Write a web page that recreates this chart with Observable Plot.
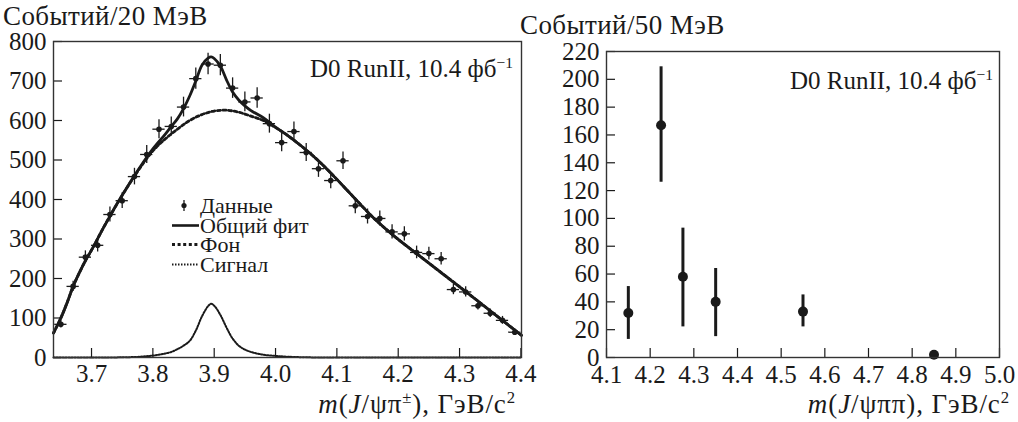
<!DOCTYPE html>
<html><head><meta charset="utf-8">
<script src="https://cdn.jsdelivr.net/npm/d3@7"></script>
<script src="https://cdn.jsdelivr.net/npm/@observablehq/plot@0.6"></script>
<style>
body{margin:0;background:#fff;}
#wrap{position:relative;width:1018px;height:422px;font-family:"Liberation Serif","Times New Roman","DejaVu Serif",serif;color:#1a1a1a;overflow:hidden;}
.lbl{position:absolute;white-space:nowrap;line-height:1;}
.lbl sup{font-size:0.62em;vertical-align:0.6em;line-height:0;}
.ttl{font-size:27px;letter-spacing:0.4px;}
.axt{font-size:27px;letter-spacing:0.9px;}
#left,#right{position:absolute;top:0;}
#left{left:0}#right{left:530px}
.leg{position:absolute;left:172px;top:196px;font-size:22px;line-height:19.5px;}
.leg div{display:flex;align-items:center;height:19.5px;}
.leg svg{width:28px;height:19px;flex:none;}
</style></head><body>
<div id="wrap">
<div id="left"></div><div id="right"></div>
<div class="lbl ttl" style="left:3px;top:3px">Событий/20 МэВ</div>
<div class="lbl ttl" style="left:520px;top:12px">Событий/50 МэВ</div>
<div class="lbl" style="right:505px;top:56px;font-size:25px">D0 RunII, 10.4 фб<sup>−1</sup></div>
<div class="lbl" style="right:25px;top:68px;font-size:25px">D0 RunII, 10.4 фб<sup>−1</sup></div>
<div class="lbl axt" style="right:502px;top:391px"><i>m</i>(<i>J</i>/ψπ<sup>±</sup>), ГэВ/c<sup>2</sup></div>
<div class="lbl axt" style="right:8px;top:391px"><i>m</i>(<i>J</i>/ψππ), ГэВ/c<sup>2</sup></div>
<div class="leg">
 <div><svg><line x1="12" x2="12" y1="4" y2="15" stroke="#1a1a1a" stroke-width="1.3"/><circle cx="12" cy="9.5" r="2.6" fill="#1a1a1a"/></svg><span>Данные</span></div>
 <div><svg><line x1="0" x2="27" y1="9.5" y2="9.5" stroke="#1a1a1a" stroke-width="2.6"/></svg><span>Общий фит</span></div>
 <div><svg><line x1="0" x2="27" y1="9.5" y2="9.5" stroke="#1a1a1a" stroke-width="2.8" stroke-dasharray="3,2.6"/></svg><span>Фон</span></div>
 <div><svg><line x1="0" x2="27" y1="9.5" y2="9.5" stroke="#1a1a1a" stroke-width="2" stroke-dasharray="1.5,1.5"/></svg><span>Сигнал</span></div>
</div>
</div>
<script>
// ---- Left panel: m(J/psi pi±), 20 MeV bins ----
const leftMass = [3.65,3.67,3.69,3.71,3.73,3.75,3.77,3.79,3.81,3.83,3.85,3.87,3.89,3.91,3.93,3.95,3.97,3.99,4.01,4.03,4.05,4.07,4.09,4.11,4.13,4.15,4.17,4.19,4.21,4.23,4.25,4.27,4.29,4.31,4.33,4.35,4.37,4.39];
const leftCounts = [84,180,254,284,362,397,458,514,578,585,634,706,743,740,682,647,657,592,544,572,519,478,448,498,384,357,352,318,313,266,263,250,172,166,131,112,94,64];
const leftErr = [9,13,16,17,19,20,21,23,24,24,25,27,27,27,26,25,26,24,23,24,23,22,21,22,20,19,19,18,18,16,16,16,13,13,11,11,10,8];
const leftBinHalf = 0.01;

const fitMass = [3.638,3.65,3.66,3.67,3.68,3.69,3.70,3.72,3.74,3.76,3.78,3.80,3.82,3.83,3.84,3.85,3.86,3.87,3.88,3.89,3.895,3.90,3.91,3.92,3.93,3.94,3.95,3.96,3.98,4.00,4.02,4.04,4.06,4.08,4.10,4.12,4.14,4.16,4.18,4.20,4.24,4.28,4.32,4.36,4.401];
const fitTotal = [62,100,138,180,214,245,272,330,385,436,484,528,565,585,604,630,662,700,740,758,761,757,738,703,672,652,637,625,607,583,562,538,512,483,451,418,385,353,325,299,251,203,155,106,56];

const bgMass = [3.638,3.65,3.66,3.67,3.68,3.69,3.70,3.72,3.74,3.76,3.78,3.80,3.82,3.84,3.86,3.88,3.90,3.92,3.94,3.96,3.98,4.00,4.02,4.04,4.06,4.08,4.10,4.12,4.14,4.16,4.18,4.20,4.24,4.28,4.32,4.36,4.401];
const bgCounts = [62,100,138,180,214,245,272,330,385,435,482,523,553,578,600,615,624,626,621,611,600,582,562,538,512,483,451,418,385,353,325,299,251,203,155,106,56];

const sigMass = [3.638,3.70,3.75,3.78,3.80,3.81,3.82,3.83,3.84,3.85,3.86,3.87,3.88,3.89,3.895,3.90,3.91,3.92,3.93,3.94,3.95,3.96,3.97,3.98,4.00,4.02,4.05,4.10,4.401];
const sigCounts = [0,0,0.5,2,5,7,10,14,21,30,42,68,104,130,136,131,108,76,48,30,20,14,10,7,4,2,0.5,0,0];

const leftXTicks = [3.7,3.8,3.9,4.0,4.1,4.2,4.3,4.4];
const leftYTicks = [0,100,200,300,400,500,600,700,800];

// ---- Right panel: m(J/psi pi pi), 50 MeV bins ----
const rightMass = [4.15,4.225,4.275,4.35,4.55,4.85];
const rightCounts = [32,167,58,40,33,2];
const rightLow = [13,126,22,15,22,2];
const rightHigh = [51,209,93,64,45,2];

const rightXTicks = [4.1,4.2,4.3,4.4,4.5,4.6,4.7,4.8,4.9,5.0];
const rightYTicks = [0,20,40,60,80,100,120,140,160,180,200,220];

const ink = "#1a1a1a";
const fmt1 = d3.format(".1f");
const tickFont = 25;

const leftData = leftMass.map((m,i)=>({m, c:leftCounts[i], e:leftErr[i]}));
const fitData = fitMass.map((m,i)=>({m, c:fitTotal[i]}));
const bgData = bgMass.map((m,i)=>({m, c:bgCounts[i]}));
const sigData = sigMass.map((m,i)=>({m, c:sigCounts[i]}));
const rightData = rightMass.map((m,i)=>({m, c:rightCounts[i], lo:rightLow[i], hi:rightHigh[i]}));

const baseStyle = {fontFamily:"'Liberation Serif', 'Times New Roman', 'DejaVu Serif', serif", fontSize:tickFont+"px", color:ink, background:"transparent", overflow:"visible", maxWidth:"none"};

// Left
const L = {w:530, h:422, ml:53, mr:9, mt:41, mb:65};
const Lfw = L.w - L.ml - L.mr, Lfh = L.h - L.mt - L.mb;
const leftPlot = Plot.plot({
  width:L.w, height:L.h, marginLeft:L.ml, marginRight:L.mr, marginTop:L.mt, marginBottom:L.mb,
  style: baseStyle,
  x:{domain:[3.638,4.401]},
  y:{domain:[0,800]},
  marks:[
    Plot.axisX(leftXTicks, {tickSize:0, tickPadding:7, tickFormat:fmt1, label:null, fontSize:tickFont}),
    Plot.axisY(leftYTicks, {tickSize:0, tickPadding:7, label:null, fontSize:tickFont}),
    Plot.tickX(leftXTicks, {x:d=>d, insetTop:Lfh-9, stroke:ink, strokeWidth:1.2}),
    Plot.tickY(leftYTicks, {y:d=>d, insetRight:Lfw-9, stroke:ink, strokeWidth:1.2}),
    Plot.line(sigData, {x:"m", y:"c", stroke:ink, strokeWidth:2, strokeDasharray:"1.5,1.5", curve:"catmull-rom"}),
    Plot.line(bgData, {x:"m", y:"c", stroke:ink, strokeWidth:2.8, strokeDasharray:"3,2.6", curve:"catmull-rom"}),
    Plot.line(fitData, {x:"m", y:"c", stroke:ink, strokeWidth:2.8, curve:"catmull-rom"}),
    Plot.ruleX(leftData, {x:"m", y1:d=>d.c-d.e, y2:d=>d.c+d.e, stroke:ink, strokeWidth:1.3}),
    Plot.ruleY(leftData, {y:"c", x1:d=>d.m-leftBinHalf, x2:d=>d.m+leftBinHalf, stroke:ink, strokeWidth:1.3}),
    Plot.dot(leftData, {x:"m", y:"c", r:2.8, fill:ink}),
    Plot.frame({stroke:"#333", strokeWidth:1.4})
  ]
});
document.getElementById("left").appendChild(leftPlot);

// Right
const R = {w:488, h:422, ml:76, mr:19, mt:51, mb:65};
const Rfw = R.w - R.ml - R.mr, Rfh = R.h - R.mt - R.mb;
const rightPlot = Plot.plot({
  width:R.w, height:R.h, marginLeft:R.ml, marginRight:R.mr, marginTop:R.mt, marginBottom:R.mb,
  style: baseStyle,
  x:{domain:[4.1,5.0]},
  y:{domain:[0,220]},
  marks:[
    Plot.axisX(rightXTicks, {tickSize:0, tickPadding:8, tickFormat:fmt1, label:null, fontSize:tickFont}),
    Plot.axisY(rightYTicks, {tickSize:0, tickPadding:7, label:null, fontSize:tickFont}),
    Plot.tickX(rightXTicks, {x:d=>d, insetTop:Rfh-9, stroke:ink, strokeWidth:1.2}),
    Plot.tickY(rightYTicks, {y:d=>d, insetRight:Rfw-9, stroke:ink, strokeWidth:1.2}),
    Plot.ruleX(rightData.filter(d=>d.hi>d.lo), {x:"m", y1:"lo", y2:"hi", stroke:ink, strokeWidth:3}),
    Plot.dot(rightData, {x:"m", y:"c", r:5, fill:ink}),
    Plot.frame({stroke:"#333", strokeWidth:1.4})
  ]
});
document.getElementById("right").appendChild(rightPlot);
</script>
</body></html>
